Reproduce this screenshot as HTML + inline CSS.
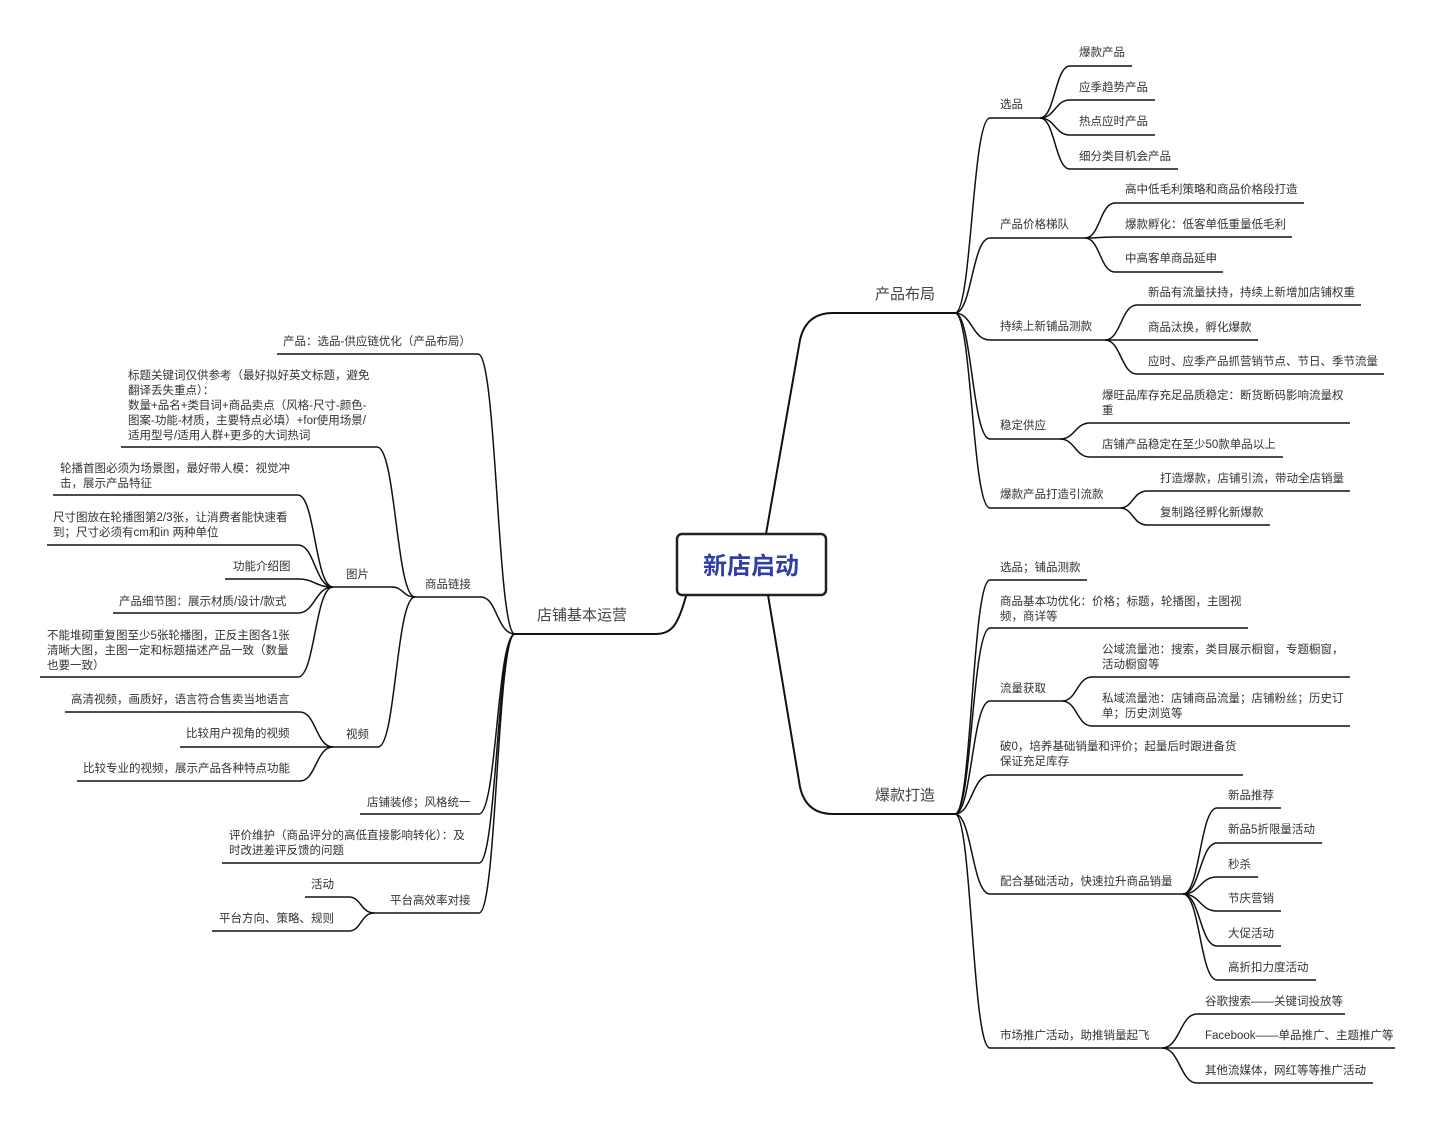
<!DOCTYPE html>
<html><head><meta charset="utf-8"><style>
html,body{margin:0;padding:0;background:#fff;}
svg{display:block;}
text{font-family:"Liberation Sans","Noto Sans CJK SC",sans-serif;font-size:11.5px;fill:#333;}
.m{font-size:15px;fill:#444;}
.c{font-size:24px;font-weight:bold;fill:#2f3fa6;}
path{fill:none;stroke:#111;stroke-width:1.5;}
</style></head><body>
<svg width="1436" height="1125" viewBox="0 0 1436 1125" xmlns="http://www.w3.org/2000/svg">
<!-- center -->
<rect x="677" y="534" width="149" height="61" rx="5" fill="#fff" stroke="#222" stroke-width="2.5"/>
<text class="c" x="751" y="574" text-anchor="middle">新店启动</text>

<!-- main connectors -->
<path style="stroke-width:2" d="M766 534 L800 340 Q806 313 833 313 L955 313"/>
<path style="stroke-width:2" d="M768 595 L800 787 Q806 814 833 814 L955 814"/>
<path style="stroke-width:2" d="M686 596 C678 625 672 634 655 634 L515 634"/>
<text class="m" x="875" y="299">产品布局</text>
<text class="m" x="875" y="800">爆款打造</text>
<text class="m" x="537" y="620">店铺基本运营</text>

<!-- RIGHT: 产品布局 -->
<path d="M955 313 C972 313 972 118 990 118 L1040 118"/>
<path d="M955 313 C972 313 972 238 990 238 L1085 238"/>
<path d="M955 313 C972 313 972 340 990 340 L1105 340"/>
<path d="M955 313 C972 313 972 439 990 439 L1060 439"/>
<path d="M955 313 C972 313 972 508 990 508 L1120 508"/>
<text x="1000" y="108">选品</text>
<text x="1000" y="228">产品价格梯队</text>
<text x="1000" y="330">持续上新铺品测款</text>
<text x="1000" y="429">稳定供应</text>
<text x="1000" y="498">爆款产品打造引流款</text>

<path d="M1040 118 C1055 118 1055 66 1070 66 L1132 66"/>
<path d="M1040 118 C1055 118 1055 100 1070 100 L1155 100"/>
<path d="M1040 118 C1055 118 1055 135 1070 135 L1155 135"/>
<path d="M1040 118 C1055 118 1055 169 1070 169 L1178 169"/>
<text x="1079" y="56">爆款产品</text>
<text x="1079" y="91">应季趋势产品</text>
<text x="1079" y="125">热点应时产品</text>
<text x="1079" y="160">细分类目机会产品</text>

<path d="M1085 238 C1100 238 1100 203 1115 203 L1304 203"/>
<path d="M1085 238 C1100 238 1100 237 1115 237 L1292 237"/>
<path d="M1085 238 C1100 238 1100 272 1115 272 L1223 272"/>
<text x="1125" y="193">高中低毛利策略和商品价格段打造</text>
<text x="1125" y="228">爆款孵化：低客单低重量低毛利</text>
<text x="1125" y="262">中高客单商品延申</text>

<path d="M1105 340 C1121 340 1121 305 1137 305 L1361 305"/>
<path d="M1105 340 C1121 340 1121 340 1137 340 L1258 340"/>
<path d="M1105 340 C1121 340 1121 374 1137 374 L1384 374"/>
<text x="1148" y="296">新品有流量扶持，持续上新增加店铺权重</text>
<text x="1148" y="331">商品汰换，孵化爆款</text>
<text x="1148" y="365">应时、应季产品抓营销节点、节日、季节流量</text>

<path d="M1060 439 C1075 439 1075 423 1090 423 L1350 423"/>
<path d="M1060 439 C1075 439 1075 457 1090 457 L1283 457"/>
<text x="1102" y="399">爆旺品库存充足品质稳定：断货断码影响流量权</text>
<text x="1102" y="414">重</text>
<text x="1102" y="448">店铺产品稳定在至少50款单品以上</text>

<path d="M1120 508 C1133 508 1133 491 1147 491 L1350 491"/>
<path d="M1120 508 C1133 508 1133 525 1147 525 L1270 525"/>
<text x="1160" y="482">打造爆款，店铺引流，带动全店销量</text>
<text x="1160" y="516">复制路径孵化新爆款</text>

<!-- RIGHT: 爆款打造 -->
<path d="M955 814 C972 814 972 580 990 580 L1087 580"/>
<path d="M955 814 C972 814 972 628 990 628 L1248 628"/>
<path d="M955 814 C972 814 972 701 990 701 L1062 701"/>
<path d="M955 814 C972 814 972 775 990 775 L1243 775"/>
<path d="M955 814 C972 814 972 894 990 894 L1183 894"/>
<path d="M955 814 C972 814 972 1048 990 1048 L1162 1048"/>
<text x="1000" y="571">选品；铺品测款</text>
<text x="1000" y="605">商品基本功优化：价格；标题，轮播图，主图视</text>
<text x="1000" y="620">频，商详等</text>
<text x="1000" y="692">流量获取</text>
<text x="1000" y="750">破0，培养基础销量和评价；起量后时跟进备货</text>
<text x="1000" y="765">保证充足库存</text>
<text x="1000" y="885">配合基础活动，快速拉升商品销量</text>
<text x="1000" y="1039">市场推广活动，助推销量起飞</text>

<path d="M1062 701 C1077 701 1077 677 1092 677 L1350 677"/>
<path d="M1062 701 C1077 701 1077 726 1092 726 L1350 726"/>
<text x="1102" y="653">公域流量池：搜索，类目展示橱窗，专题橱窗，</text>
<text x="1102" y="668">活动橱窗等</text>
<text x="1102" y="702">私域流量池：店铺商品流量；店铺粉丝；历史订</text>
<text x="1102" y="717">单；历史浏览等</text>

<path d="M1183 894 C1200 894 1200 808 1217 808 L1281 808"/>
<path d="M1183 894 C1200 894 1200 843 1217 843 L1322 843"/>
<path d="M1183 894 C1200 894 1200 877 1217 877 L1258 877"/>
<path d="M1183 894 C1200 894 1200 911 1217 911 L1281 911"/>
<path d="M1183 894 C1200 894 1200 946 1217 946 L1281 946"/>
<path d="M1183 894 C1200 894 1200 980 1217 980 L1316 980"/>
<text x="1228" y="799">新品推荐</text>
<text x="1228" y="833">新品5折限量活动</text>
<text x="1228" y="868">秒杀</text>
<text x="1228" y="902">节庆营销</text>
<text x="1228" y="937">大促活动</text>
<text x="1228" y="971">高折扣力度活动</text>

<path d="M1162 1048 C1180 1048 1180 1014 1197 1014 L1345 1014"/>
<path d="M1162 1048 C1180 1048 1180 1048 1197 1048 L1395 1048"/>
<path d="M1162 1048 C1180 1048 1180 1083 1197 1083 L1373 1083"/>
<text x="1205" y="1005">谷歌搜索——关键词投放等</text>
<text x="1205" y="1039">Facebook——单品推广、主题推广等</text>
<text x="1205" y="1074">其他流媒体，网红等等推广活动</text>

<!-- LEFT -->
<path d="M515 634 C497 634 497 354 478 354 L277 354"/>
<path d="M515 634 C497 634 497 597 481 597 L415 597"/>
<path d="M515 634 C497 634 497 814 479 814 L360 814"/>
<path d="M515 634 C497 634 497 863 479 863 L222 863"/>
<path d="M515 634 C497 634 497 913 479 913 L374 913"/>
<text x="283" y="345">产品：选品-供应链优化（产品布局）</text>
<text x="425" y="588">商品链接</text>
<text x="367" y="806">店铺装修；风格统一</text>
<text x="229" y="839">评价维护（商品评分的高低直接影响转化）：及</text>
<text x="229" y="854">时改进差评反馈的问题</text>
<text x="390" y="904">平台高效率对接</text>

<path d="M415 597 C396 597 396 447 377 447 L121 447"/>
<path d="M415 597 C403 597 403 587 392 587 L333 587"/>
<path d="M415 597 C396 597 396 747 378 747 L333 747"/>
<text x="128" y="379">标题关键词仅供参考（最好拟好英文标题，避免</text>
<text x="128" y="394">翻译丢失重点）：</text>
<text x="128" y="409">数量+品名+类目词+商品卖点（风格-尺寸-颜色-</text>
<text x="128" y="424">图案-功能-材质，主要特点必填）+for使用场景/</text>
<text x="128" y="439">适用型号/适用人群+更多的大词热词</text>
<text x="346" y="578">图片</text>
<text x="346" y="738">视频</text>

<path d="M333 587 C315 587 315 495 298 495 L53 495"/>
<path d="M333 587 C315 587 315 545 298 545 L47 545"/>
<path d="M333 587 C315 587 315 579 298 579 L225 579"/>
<path d="M333 587 C315 587 315 613 298 613 L113 613"/>
<path d="M333 587 C315 587 315 677 298 677 L40 677"/>
<text x="60" y="472">轮播首图必须为场景图，最好带人模：视觉冲</text>
<text x="60" y="487">击，展示产品特征</text>
<text x="53" y="521">尺寸图放在轮播图第2/3张，让消费者能快速看</text>
<text x="53" y="536">到；尺寸必须有cm和in 两种单位</text>
<text x="233" y="570">功能介绍图</text>
<text x="119" y="605">产品细节图：展示材质/设计/款式</text>
<text x="47" y="639">不能堆砌重复图至少5张轮播图，正反主图各1张</text>
<text x="47" y="654">清晰大图，主图一定和标题描述产品一致（数量</text>
<text x="47" y="669">也要一致）</text>

<path d="M333 747 C316 747 316 712 300 712 L65 712"/>
<path d="M333 747 C316 747 316 747 300 747 L180 747"/>
<path d="M333 747 C316 747 316 781 300 781 L77 781"/>
<text x="71" y="703">高清视频，画质好，语言符合售卖当地语言</text>
<text x="186" y="737">比较用户视角的视频</text>
<text x="83" y="772">比较专业的视频，展示产品各种特点功能</text>

<path d="M374 913 C361 913 361 897 349 897 L305 897"/>
<path d="M374 913 C361 913 361 931 349 931 L212 931"/>
<text x="311" y="888">活动</text>
<text x="219" y="922">平台方向、策略、规则</text>
</svg>
</body></html>
